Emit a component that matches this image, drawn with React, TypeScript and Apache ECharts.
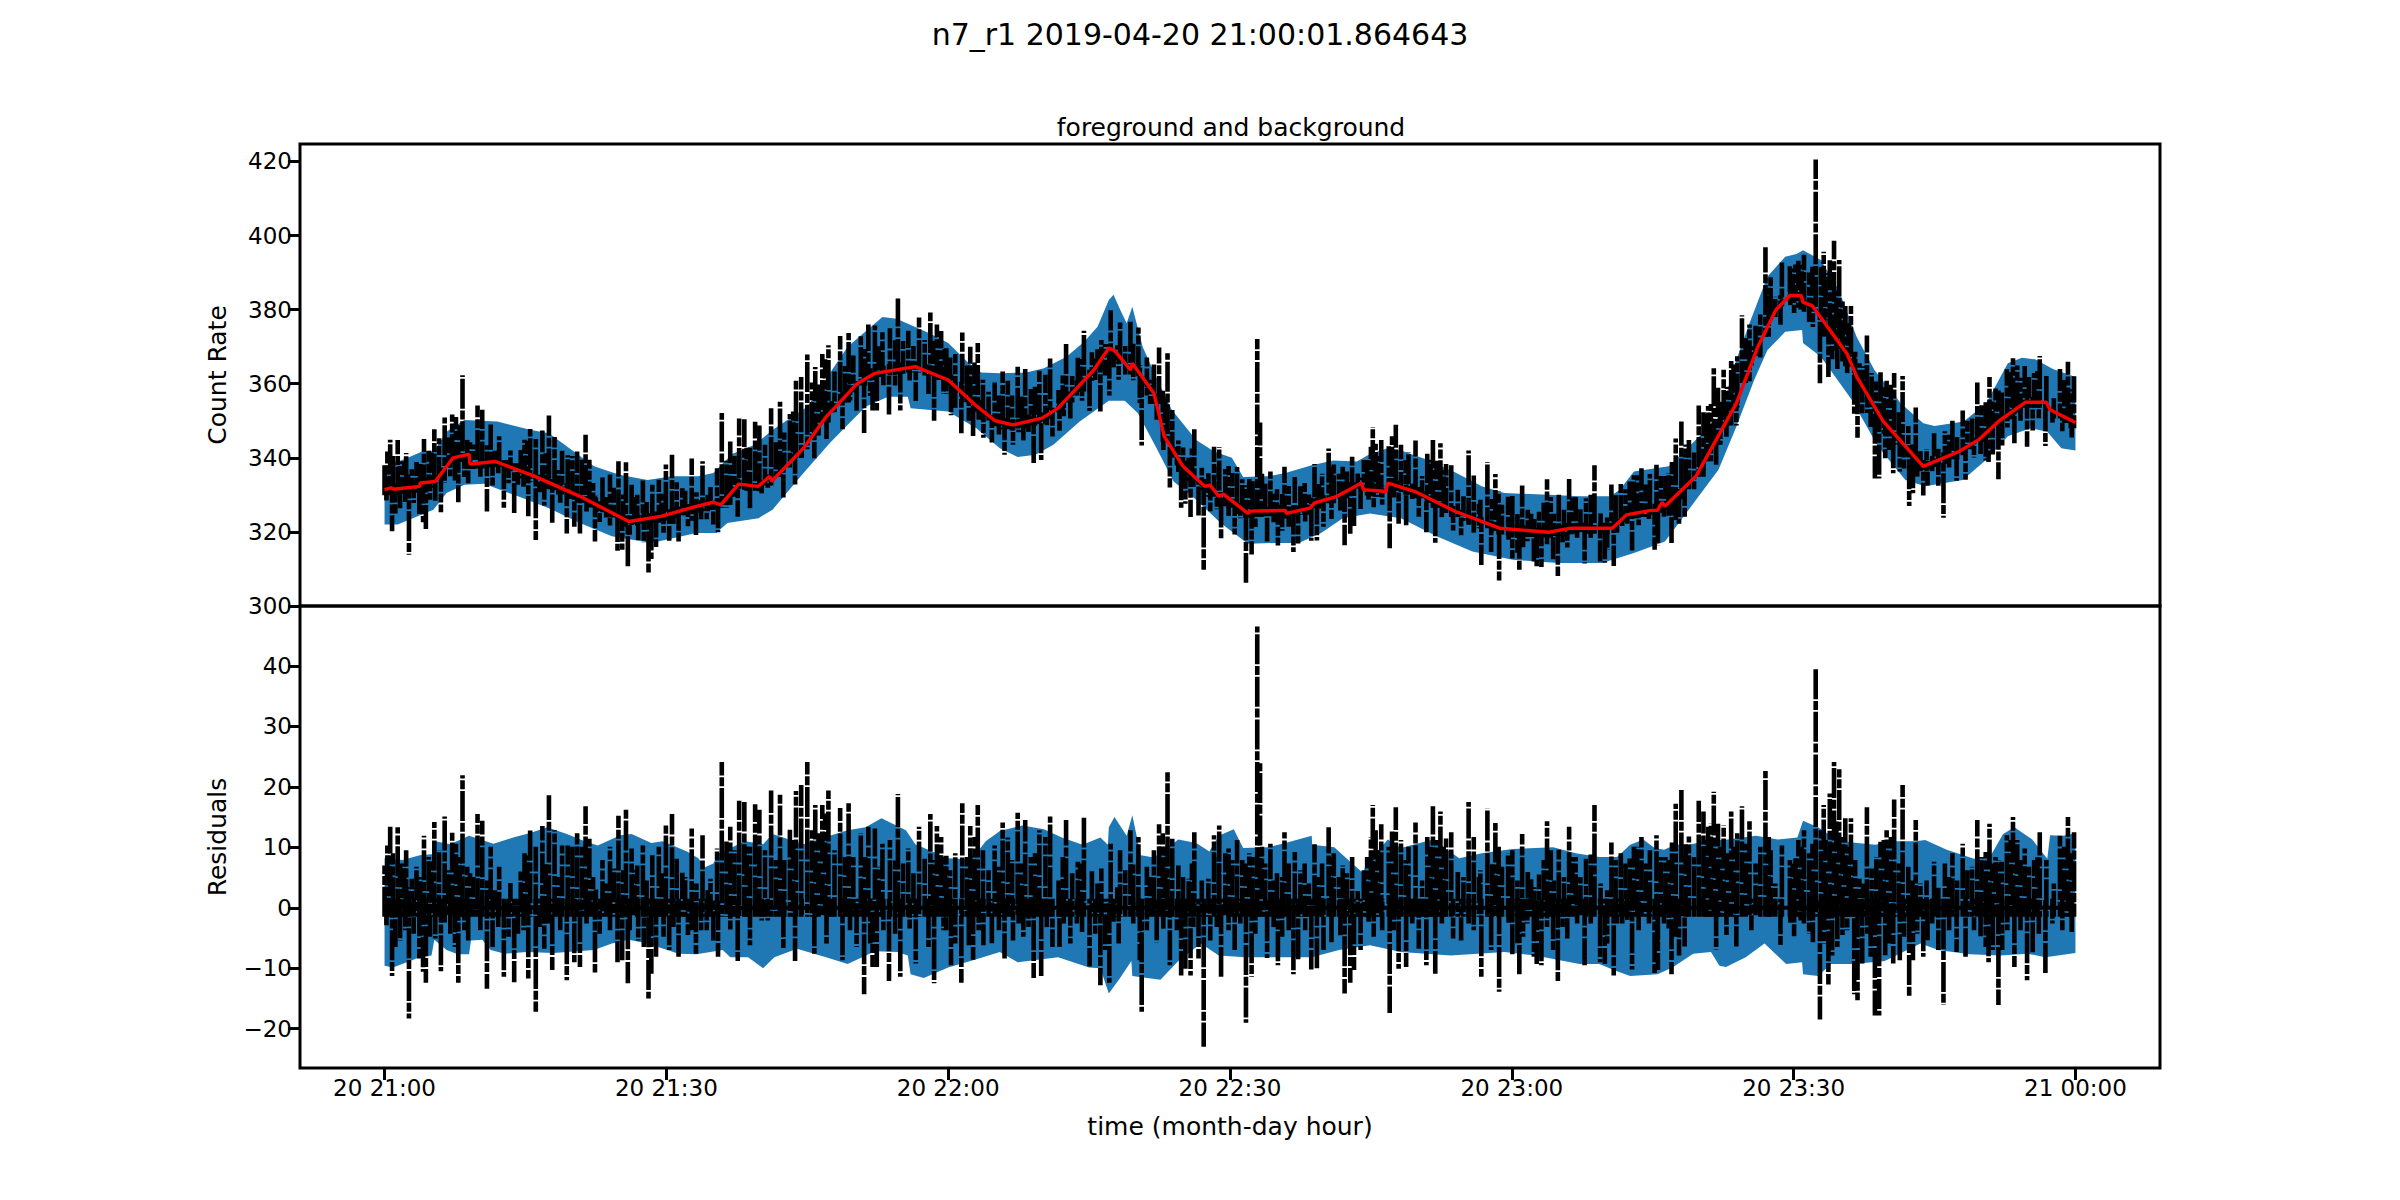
import React, { useEffect, useRef } from "react";
import * as echarts from "echarts";

const suptitle = "n7_r1 2019-04-20 21:00:01.864643";
const panelTitle = "foreground and background";
const xTickMinutes = [0, 30, 60, 90, 120, 150, 180];
const xTickLabels = ["20 21:00", "20 21:30", "20 22:00", "20 22:30", "20 23:00", "20 23:30", "21 00:00"];
const countTicks = [300, 320, 340, 360, 380, 400, 420];
const residualTicks = [-20, -10, 0, 10, 20, 30, 40];

// Red fitted background [minute, count rate]
const redLine = [[0,331.4],[0.7,331.9],[1,331.5],[3.75,332.3],[3.8,333.2],[5.4,333.6],[7.3,340],[9,341],[9.1,338.3],[11.8,339],[16,335],[20.8,329.6],[26,322.8],[29.4,324.2],[33.2,326.9],[35,328],[35.8,327.3],[37.7,332.9],[39.8,332.3],[41,335],[41.2,333.6],[44.6,342.6],[47,351],[50.3,360],[52.2,362.8],[56.5,364.6],[60,361],[63,354],[65,350],[66.9,348.9],[70,350.7],[71.7,353.4],[75.5,363.7],[77.1,369.6],[77.7,369],[79.4,363.7],[79.6,365.5],[81.9,357.4],[83,345.8],[85,337.7],[87.3,332.3],[87.9,332.6],[88.8,329.6],[89.3,330.2],[91.5,325.8],[91.9,325],[92.2,325.6],[95.9,325.8],[96,325],[98.5,326.4],[99,327.8],[101.4,329.6],[104,333.2],[104.2,331.4],[106.6,330.9],[106.8,333.2],[109.7,330.9],[114,325.5],[118.7,321],[123.9,319.9],[126.3,321],[130.7,321],[132.2,324.6],[134.8,325.8],[135.5,325.8],[136,328],[136.3,326.9],[139.6,335],[143.9,354.7],[146.2,370],[148.1,379.9],[149.6,383.8],[150.8,383.8],[151,382],[152,381],[155.7,368],[156.7,362],[159.5,350],[163.8,337.7],[167.6,341.7],[169.7,344.9],[171.9,350],[174.7,355],[176.9,355],[177.3,353],[180,349.5]];

// Background level read at each whole minute, 0 to 180
const backgroundByMinute = [331.4,331.5,331.8,332.1,333.2,333.5,335.8,339.3,340.4,338.5,338.6,338.9,339,337.9,337,335.9,335,333.9,332.8,331.6,330.4,329.4,328.1,326.8,325.4,323.9,322.9,323.2,323.6,324,324.6,325.3,326,326.7,327.1,327.4,328,331,332.9,332.6,332.5,334,336.3,338.9,341.5,343.8,347.5,351,353.8,356.4,359.2,361,362.6,363.3,363.8,364.2,364.5,364.5,363.7,362.5,361,359,356.5,354,351.6,350,349.2,348.9,349.5,350.2,350.7,352,353.8,356.4,359.4,362.3,365.3,369.2,367,364,363.5,360.5,356,345.8,341.5,337.7,335.2,332.8,331,329.3,328,326.3,325.3,325.6,325.7,325.8,325.1,325.6,326.1,327.8,328.4,329.2,330.6,331.9,333.2,331.3,331,333,332.3,331.5,330.6,329.4,328,326.6,325.5,324.5,323.5,322.5,321.6,320.8,320.5,320.3,320.1,320,319.9,320.4,320.9,321,321,321,321,322,324.2,325.2,325.5,326.1,326.7,328,330.1,333,336.4,340.6,345,350.2,355.1,361.7,368.6,374.2,379.5,382.4,383.8,382,381,378.6,374.5,370.5,366.2,360.7,356.4,352.2,348,345,341.8,339.1,337.9,339,339.9,341.1,342.2,343.8,345.8,347.9,350.3,351.9,353.7,355,355,354.2,352.1,350.9,349.5];

// Blue band, top panel
const countBandUpper = [[0,337.7],[2.1,339.6],[4,341.7],[5.3,342],[6.6,347],[8.5,350.2],[12,349.8],[15.6,347.5],[17.5,346.6],[20,342],[22.3,337.7],[25,335.4],[28,334],[30.6,335],[33.4,335],[35,335.9],[37,341],[39.4,343.5],[41.3,347.5],[45,353.8],[49.3,370],[53,378],[54.5,377.5],[58,373.6],[60,371],[62,366],[63.5,363],[65.5,362.8],[68.3,363],[70.2,364.2],[72.6,367.3],[74.5,371.4],[75.9,375.4],[77.1,382.6],[77.6,384],[78.3,380],[79,376.3],[79.6,380.8],[80.7,370],[82.1,362],[83.8,353],[86.4,344.8],[88.3,341.7],[90.2,340],[91.4,334.8],[94,335],[95.9,335.9],[98.7,338],[101,339.3],[103.5,339],[104.9,341],[106.8,342.6],[108.2,342],[111,339.5],[114,336],[116.8,332.3],[119.2,330.5],[123.9,330],[127.2,329.6],[130.5,329.6],[131.5,331.4],[133,336.3],[136.7,337.7],[139.6,344.9],[142.4,352],[143.4,362.8],[145.3,376.3],[147.2,388.9],[149.1,394.3],[150.3,395],[151,396],[152.9,393.4],[154.8,385.3],[156.7,372.7],[158.6,363.7],[161.4,354.7],[163.8,349.3],[165,348.6],[168.1,349.8],[170.5,354.7],[172.8,365.5],[174.3,367],[175.7,366.6],[177.6,364],[180,361.8]];
const countBandLower = [[0,322],[1.4,322],[5.2,326],[6.6,330.5],[8.5,332.7],[10.6,333],[14.2,329.6],[17.5,326.4],[20.8,322.4],[24.2,318.8],[28.4,317],[33.2,319.7],[35.3,319.7],[36.5,322.4],[39.8,323.7],[41.3,326],[44.6,335.9],[47.4,344],[51.2,353.8],[53.6,356.5],[55.7,356.5],[56,353.4],[60,352.5],[63,348],[65.5,342.6],[67.4,340.2],[69.3,340.8],[71.2,343.5],[74,349.8],[77.1,355.4],[78.8,355.4],[80.2,352],[82.1,343],[84,333.6],[86.4,328.7],[89,322.4],[91.9,316.8],[94.9,317],[97.3,317],[99.7,319.7],[102,323.7],[104.9,325],[108.2,323.7],[112,318.8],[115.8,314.7],[120.1,312.5],[124.9,311.6],[129.6,311.6],[133,314.3],[136.3,317.4],[139.1,326.9],[142,336.8],[143.9,348.4],[145.8,361],[147.2,369],[149.1,374],[150.9,374.5],[151,371],[152.9,367.3],[156.2,355.6],[159,343],[161.9,334],[164,332.3],[168,334],[170.5,339.5],[172.8,345.8],[175.2,348],[177,347],[178.5,342.6],[180,342]];

// Blue band, residual panel
const residualBandUpper = [[0,8.2],[1.9,7.9],[3.75,8.7],[5.3,8.9],[5.4,11],[7,10.5],[9,11.9],[11.6,10.6],[13.7,11.6],[15.6,12.4],[17.3,13.3],[19.4,12.2],[21.3,11],[22.7,10.3],[25.1,12],[26.3,12.2],[28.4,10.7],[29.6,11],[32.2,9.3],[33.4,8.2],[34.1,6.7],[35,7.3],[35.6,9],[38.4,11],[40.3,10.5],[41.3,12.2],[44.6,10.5],[47.4,11.9],[49.3,12.8],[51.2,13.3],[52.9,14.8],[55.5,12.8],[56.5,10.5],[60,8.2],[62,8],[63,9],[64,11],[65.5,12.7],[67.9,13.6],[70.2,13],[72.1,11.6],[74.3,10.4],[76.2,11.6],[77,10.4],[77.1,13.3],[77.7,15],[79,11.9],[79.6,15.3],[80.5,8.7],[81.9,8.3],[84.5,11.3],[86.4,10.7],[87.8,9.3],[88.8,11.9],[90.4,13],[91.4,9.9],[94,10],[95.9,10.7],[98.7,11.9],[98.75,10.4],[101.1,10],[103,7.3],[104.2,5.7],[104.4,7],[106.8,11.3],[108.2,9.9],[111.6,11.3],[114.4,8.2],[116.8,9],[120.1,9.7],[124.4,10],[126.8,9],[129.3,8.4],[131.2,8.4],[132.6,10.4],[134,11.3],[135.2,9.9],[136.2,9.6],[137.4,10.4],[138.8,10.4],[140.7,11],[143,11.3],[146,11.9],[148.3,11.3],[150.4,11.6],[151,14.4],[152.6,13.3],[154.9,11],[158.7,10.4],[160.6,11],[163,11],[164,11.2],[166.3,9.6],[169.2,8.1],[171,8.7],[172.3,12.2],[173.5,13.3],[175.4,11.3],[177,8.1],[177.3,12],[178.7,11.9],[180,12.3]];
const residualBandLower = [[0,-9.6],[0.9,-9.9],[3.75,-8.2],[5,-7.9],[5.3,-5.3],[6.6,-7],[7.8,-7.7],[9,-7.7],[9.2,-5.4],[10.4,-5.3],[11.3,-7],[12.8,-7.6],[15.1,-7.3],[18,-7.5],[22.3,-7],[24.2,-5.9],[26,-5.3],[28,-5.9],[31.3,-7.6],[33.2,-7.7],[36,-7],[36.8,-8.2],[38.7,-8.2],[40.3,-10],[41.5,-8.2],[43.9,-6.8],[47,-8.2],[49.3,-9.3],[52.2,-7.2],[54.6,-7.3],[55.7,-7.9],[56,-11],[57.4,-11.6],[60,-9.9],[63,-8.5],[65.5,-7.3],[67.4,-9],[71.7,-8.2],[75,-9.9],[76.2,-10],[77.1,-14.2],[78.3,-11.6],[79.5,-8.8],[79.6,-11.3],[82.6,-11.9],[84.5,-8.8],[86.9,-5.9],[88.8,-7.9],[91.6,-8.2],[94.9,-8.2],[98.7,-8.2],[101.6,-7],[104.9,-6.2],[108.2,-7.3],[113.5,-7.9],[119.2,-7.3],[122.5,-7.9],[127.2,-9.3],[129.3,-9.3],[131.2,-10.5],[132.6,-11.3],[135.5,-11],[137.1,-9.9],[139.3,-7.6],[141.2,-7.3],[142.1,-9.6],[142.8,-9.8],[144.9,-8.2],[146.9,-5.9],[149.2,-9.3],[150.9,-9],[151,-11],[152.6,-11.3],[154,-9.3],[156.4,-9.3],[159.7,-8.8],[163.5,-5.9],[165.4,-7],[168.7,-7.7],[172,-7.9],[174.9,-7.6],[176.8,-8.2],[180,-7.5]];

// Black bars above the background [minute, residual at the bar's top]
const upperSpikes = [
[0,7],[0.3,10.3],[0.6,13.4],[0.9,9],[1.4,13.3],[1.65,7.3],[2.1,7.3],[2.3,9.5],[2.5,3.4],[2.9,4.8],[3.4,6.8],[3.8,5.1],[4.2,11.9],[4.7,8.4],[5,7.9],[5.3,14.2],[5.8,9.5],[6.4,15.1],[6.8,6.2],[7.2,12.4],[7.6,10.6],[8,8.4],[8.3,21.9],[8.8,6.8],[9.1,5.7],[9.45,5.1],[9.9,15.5],[10.4,14.4],[10.9,4.5],[11.3,10.1],[11.75,2.9],[12.2,6.8],[12.9,1.2],[13.4,4.1],[14.5,6.2],[14.9,9],[15.2,8.7],[15.5,12.8],[16.1,10.1],[16.8,13.5],[17.15,7.3],[17.5,18.6],[18.1,12.8],[18.5,5.1],[18.9,10.3],[19.5,10.3],[20,10.1],[20.5,12.3],[21,10.1],[21.4,16.8],[21.8,11.4],[22.2,5.1],[22.5,3],[23.2,7.9],[23.6,4],[24,10.1],[24.4,6.5],[24.9,15.2],[25.4,6.2],[25.7,16.4],[26.3,9.8],[26.6,6.2],[26.9,7],[27.5,10.3],[27.9,4.5],[28.5,8.7],[29.2,10.1],[29.5,5.7],
[29.95,13.6],[30.6,15.5],[31.1,8.1],[31.7,5.8],[32,5.1],[32.7,13.1],[33.2,4],[33.85,12],[34.4,2.9],[34.7,4.8],[35.4,9.8],[35.9,24.1],[36.4,11.2],[36.8,13.4],[37.25,9.5],[37.75,17.7],[38.3,17.5],[38.55,10.1],[38.9,10.1],[39.45,17.1],[39.9,16.2],[40.5,9.5],[41.15,19.4],[41.65,7.9],[42.1,18.8],[42.55,7.9],[43.15,12.9],[43.5,11.2],[43.8,19.3],[44.35,20.3],[45,24.1],[45.5,12.8],[45.85,17],[46.2,12.3],[46.6,17],[46.9,15.6],[47.25,19.4],[47.9,9.5],[48.5,16.5],[49,8.4],[49.4,17.3],[49.9,8.4],[50.7,12.3],[51.15,8.4],[51.5,13.4],[52.2,13.1],[52.6,6.8],[53,10.6],[53.8,11.2],[54.35,7.9],[54.65,18.8],[55.2,7.3],[55.75,9.8],[56.3,5.7],[56.9,13.4],[57.5,8.1],[58.1,15.5],[58.4,7.9],[58.8,13.5],[59.25,11.7],[59.65,8.4],
[59.8,8.6],[60.2,6.2],[60.75,9],[61.5,17.3],[62,8.4],[62.35,13.5],[62.8,11.7],[63.15,17],[63.7,9.5],[64.3,6.2],[64.95,10.3],[65.4,6.8],[65.8,14.1],[66.35,11.6],[66.8,7.9],[67.4,15.7],[67.85,7.3],[68.2,14.5],[68.8,8.4],[69.25,9],[69.7,12.8],[70.35,11.7],[70.85,15.1],[71.75,4.5],[72.2,8.4],[72.55,14.5],[73.2,5.7],[73.8,7.6],[74.05,7.3],[74.45,14.9],[75.3,6.2],[75.9,4],[76.3,6.5],[77.3,10.6],[78,3.4],[78.3,9.5],[78.85,6.2],[79.4,12.8],[79.7,7.3],[80.25,11.7],[81.15,6.8],[81.5,5.1],[81.9,9.5],[82.45,13.8],[82.85,12.3],[83.1,10.1],[83.35,22.4],[83.85,11.4],[84.5,7],[85,5.1],[85.6,4.8],[85.95,7.3],[86.2,12.5],[87,4.5],[87.7,4.8],[88.3,12],[88.8,8.4],[88.85,13.6],[89.5,9],
[89.85,9.8],[90.25,7.9],[90.75,11.2],[91.3,7.9],[91.65,7.3],[92.05,9],[92.4,8.4],[92.9,46.5],[93.2,23.9],[93.4,10.1],[93.75,7.3],[94.3,10.6],[94.65,4.5],[95,5.7],[95.55,5.1],[95.8,12.5],[96.25,7.3],[96.9,9.2],[97.5,6.2],[97.95,7.3],[98.4,4],[99,10.5],[99.45,5.1],[99.8,7.3],[100.5,13.3],[100.8,8.4],[101.05,9],[101.6,5.1],[102,7],[102.45,5.7],[103,8.4],[103.6,2.9],[104.25,6.2],[104.6,8.4],[105,11.7],[105.2,17],[105.5,12.8],[105.75,9.5],[106.1,13.8],[106.9,10.1],[107.25,12.8],[107.65,16.6],[108.2,11.2],[108.7,7.9],[109,10.1],[109.75,14.1],[110.45,4.5],[111,11.7],[111.35,10.1],[111.6,16.8],[112,11.2],[112.4,15.9],[112.75,10.1],[113,11.7],[113.55,12.5],[114.25,5.9],[114.85,5.1],[115.4,17.5],[115.95,11.7],[116.5,5.1],[116.65,6.2],[117.4,16.4],[117.9,7.3],[118.25,14],[118.6,10.1],[118.95,6.8],[119.6,9],
[120.05,9.5],[120.6,4.5],[121.1,12.2],[121.7,5.9],[122.05,4.8],[122.4,3.4],[122.9,5.5],[123.4,7.9],[123.75,14.3],[124.15,9.5],[124.5,4.5],[125,9.6],[125.55,5.1],[126.1,13.4],[126.45,8.4],[126.8,8.4],[127.3,5.1],[127.9,8.1],[128.4,9],[128.8,17],[129.45,4],[130.15,2.9],[130.6,10.8],[131.05,7.9],[131.6,9],[132.1,7.3],[132.55,8.4],[133,10.1],[133.35,10.1],[133.8,11.7],[134.25,7.3],[134.7,9.5],[135.4,12],[135.85,8.4],[136.35,8.4],[136.7,7.9],[137.05,10.9],[137.45,17.2],[138.05,19.7],[138.5,10.6],[138.85,11.8],[139.4,8.4],[139.9,17.7],[140.4,15.9],[140.7,11.2],[140.9,13.4],[141.2,13.9],[141.5,19.2],[141.95,13.9],[142.2,10.1],[142.55,13.6],[142.9,9],[143.35,15.9],[143.6,10.1],[144,12.3],[144.5,16.8],[144.9,10.6],[145.3,14.3],[145.95,7.3],[146.45,10.1],[147,22.6],[147.35,11.7],[147.55,9.5],[148.05,4],[148.75,10.3],[149.6,7.9],
[149.9,7.3],[150.2,8.4],[150.5,11.2],[150.85,10.1],[151.1,12.8],[151.65,9],[152,10.6],[152.35,39.5],[152.9,12.8],[153.2,17],[153.4,11.2],[153.85,18.9],[154.3,24.1],[154.55,14.5],[154.85,22.9],[155.2,11.7],[155.5,14.8],[155.85,10.1],[156.1,14.8],[156.55,7.9],[157,4.8],[157.4,4],[157.8,16.6],[158.3,6.5],[158.8,8.4],[159.25,10.9],[159.6,11.2],[159.9,12.8],[160.35,11.7],[160.7,17.9],[161.2,7.3],[161.6,20.3],[162.2,6.8],[162.65,4.5],[163,14.5],[163.5,4],[164.15,4.5],[164.95,7.6],[165.4,3.4],[166.1,7.3],[166.55,5.1],[166.9,9],[167.4,4.5],[168,10.6],[168.5,6.2],[169,6.8],[169.55,14.5],[170,8.4],[170.45,9.2],[170.85,13.9],[171.15,7.3],[171.5,8.4],[171.8,7.9],[172.15,7.6],[172.7,12],[173.1,11.2],[173.35,15],[173.8,11.2],[174.15,7.9],[174.6,9.8],[175.05,6.8],[175.6,7.9],[175.95,8.4],[176.2,12.5],[176.9,7.9],[177.7,4],[178.35,11.9],[178.8,10.1],[179.2,15],[179.5,9],[179.85,12.5]
];

// Black bars below the background [minute, residual at the bar's bottom]
const lowerSpikes = [
[0.2,-2.9],[0.8,-11.3],[1.15,-6.5],[1.65,-5.4],[2.2,-3.7],[2.6,-18.3],[3.1,-4.3],[3.7,-8.4],[4.1,-10.6],[4.4,-12.4],[4.85,-4.8],[5.4,-5.1],[6,-10.5],[6.4,-2.6],[7,-4.3],[7.5,-6.5],[7.85,-12.4],[8.5,-3.7],[8.9,-5.4],[10.2,-3.7],[10.9,-13.4],[11.5,-6.5],[12.1,-3.2],[12.7,-11.4],[13.2,-4.8],[13.8,-12.3],[14.2,-4.3],[14.8,-3.7],[15.3,-11.7],[16.1,-17.2],[16.5,-3.2],[17,-6.8],[17.4,-2.6],[17.85,-10.3],[18.7,-3.7],[19.4,-12],[20.2,-9],[20.8,-9.8],[21.5,-2.6],[22.4,-10.7],[22.9,-4.3],[24,-3.7],[24.8,-9],[25.3,-8.7],[25.9,-12.5],[26.1,-3.7],[27,-5.4],[27.6,-6.5],[28.1,-15],[28.4,-10.9],[28.9,-8.1],[29.7,-4.8],
[30.3,-7],[30.75,-3.2],[31.3,-8.1],[32.3,-4.5],[32.7,-3.7],[33.15,-7.6],[33.7,-3.7],[34.3,-3.7],[35,-5.4],[35.5,-8.1],[36.8,-3.7],[37.6,-8.8],[38.4,-1.5],[38.9,-6.2],[40.15,-2.1],[40.8,-2.1],[42.45,-7],[43.7,-8.8],[44.4,-1.5],[45.75,-7.6],[47.05,-5.9],[47.6,-1.5],[48.75,-8.7],[49.55,-3.7],[50.25,-6.5],[51.05,-14.3],[51.7,-5.9],[51.95,-9.8],[52.4,-9.8],[53.1,-3.7],[53.7,-12.1],[54.35,-4.3],[54.9,-11.4],[55.9,-3.7],[56.55,-9.2],[57.9,-6.5],[58.5,-12.5],[59.5,-3.7],
[59.8,-3.7],[60.3,-9.5],[60.75,-5.9],[61.4,-12.4],[62.2,-6.5],[62.65,-8.6],[63.25,-3.7],[63.75,-6.2],[64.65,-5.9],[65.4,-3.7],[66,-8.4],[66.9,-5.4],[67.5,-2.6],[68,-4.8],[68.55,-3.2],[69.1,-11.6],[69.9,-11.3],[70.5,-3.2],[71.1,-6.5],[71.85,-6.5],[72.3,-2.6],[73,-5.9],[73.7,-2.6],[74.25,-4],[75.05,-9.7],[75.65,-4.3],[76.2,-12.8],[76.7,-7],[77.15,-12.4],[77.6,-2.6],[78.15,-5.9],[79.7,-2.6],[80.4,-8.7],[80.6,-17.2],[81.15,-3.7],[82.2,-5.7],[82.9,-3.7],[83.6,-9.5],[84.35,-3.7],[84.8,-11.2],[85.25,-10.1],[85.8,-11.2],[86.1,-3.2],[86.65,-8.4],[87.2,-23],[87.9,-5.4],[88.6,-3.2],[89.05,-11.4],
[89.85,-3.7],[90.5,-7],[91.1,-2.6],[91.7,-19],[92.3,-11.4],[92.7,-4.3],[93.95,-8.3],[94.65,-3.2],[95.1,-9.5],[95.55,-4.8],[96.25,-3.7],[96.75,-11],[97.25,-8.7],[98,-3.7],[98.65,-10.2],[99.25,-10.1],[99.95,-7],[100.8,-5.7],[101.75,-4.8],[102.2,-14.2],[102.8,-12.4],[103.2,-10.3],[103.9,-7],[104.75,-2.6],[105.3,-4.8],[106.2,-3.7],[107,-17.4],[107.45,-3.7],[107.95,-10.1],[108.75,-9.8],[109.4,-2.6],[110.1,-6.8],[110.9,-9.5],[111.85,-10.9],[112.55,-2.6],[113.75,-5.1],[114.6,-5.4],[115.4,-2.6],[115.95,-3.7],[116.75,-11.4],[117.8,-7],[118.65,-13.9],[119.65,-2.6],
[120.05,-7.7],[120.6,-5.9],[120.8,-11],[121.2,-4.8],[121.65,-2.6],[122.35,-8.1],[122.65,-9.3],[123.15,-9.5],[123.75,-3.2],[124.4,-7.3],[124.9,-12.3],[125.4,-3.2],[125.9,-5.1],[126.95,-2.6],[127.75,-9.5],[128.4,-2.6],[129.4,-9],[129.9,-9.3],[130.15,-5.9],[130.85,-11.2],[131.2,-2.6],[131.75,-2.6],[132.3,-2],[132.8,-10.2],[133.5,-3.7],[134.6,-2.6],[135.2,-10.9],[135.5,-6.5],[135.55,-10.3],[136.2,-2.6],[136.7,-3.7],[137,-11],[137.45,-4.8],[137.8,-7.9],[138.4,-6.4],[140.1,-0.4],[141.75,-6.9],[142.85,-4.5],[143.9,-6.4],[145.5,-3.7],[148.6,-6.5],[149.65,-2.6],
[150.05,-4.7],[150.75,-2.1],[151.1,-2.6],[151.65,-4.3],[152.05,-5.7],[152.8,-18.5],[153.25,-5.9],[153.7,-12.7],[154.1,-7.9],[154.65,-6.5],[155.2,-4.5],[155.7,-3.7],[156.45,-14.3],[156.8,-15.3],[157.3,-9.2],[157.85,-4.3],[158.2,-8.1],[158.65,-17.8],[159.1,-17.8],[159.75,-8.1],[160.15,-5.9],[160.6,-9.2],[161.3,-8.7],[161.75,-4.8],[162.3,-14.8],[162.7,-8.7],[163.15,-4.3],[163.8,-8.1],[164.25,-5.4],[164.75,-2.6],[165.4,-7],[165.95,-16.1],[166.55,-3.7],[167.35,-7.3],[168.3,-8.1],[169.2,-3.7],[169.9,-4.8],[170.45,-6.5],[170.75,-9],[171.2,-7],[171.8,-16.1],[172.2,-7],[172.75,-3.7],[173.5,-9.8],[174.15,-3.7],[174.85,-12],[175.45,-7.6],[176.1,-4.3],[176.8,-11],[177.55,-2.6],[178.6,-3.7],[179.6,-4]
];

// How far past the background each kind of bar starts
const upperBarStart = -1.5;
const lowerBarStart = 1.5;

const FONT = "DejaVu Sans";

function bandSeries(upper: number[][], lower: number[][], axisIndex: number) {
  return {
    type: "custom",
    xAxisIndex: axisIndex,
    yAxisIndex: axisIndex,
    silent: true,
    z: 1,
    data: [upper[0]],
    renderItem: (_p: any, api: any) => ({
      type: "polygon",
      shape: { points: upper.concat([...lower].reverse()).map((d) => api.coord(d)) },
      style: { fill: "#1f77b4", stroke: "none" },
    }),
  };
}

function barSeries(spikes: number[][], start: number, base: (m: number) => number, axisIndex: number) {
  return {
    type: "custom",
    xAxisIndex: axisIndex,
    yAxisIndex: axisIndex,
    silent: true,
    z: 2,
    data: spikes.map(([m, r]) => [m, base(m) + start, base(m) + r]),
    renderItem: (p: any, api: any) => {
      const a = api.coord([api.value(0), api.value(1)]);
      const b = api.coord([api.value(0), api.value(2)]);
      return {
        type: "line",
        shape: { x1: a[0], y1: a[1], x2: b[0], y2: b[1] },
        style: {
          stroke: "#000",
          lineWidth: 4.6,
          lineDash: [30, 1.8, 9, 1.8],
          lineDashOffset: (p.dataIndex * 11) % 42,
        },
      };
    },
  };
}

const byMinute = (m: number) => backgroundByMinute[Math.round(m)];

function App() {
  const ref = useRef<HTMLDivElement>(null);
  useEffect(() => {
    const chart = echarts.init(ref.current!, undefined, { renderer: "svg" });
    const xAxisBase = { type: "value", min: -9, max: 189, splitLine: { show: false }, axisLine: { show: false, onZero: false } };
    const yAxisBase = (ticks: number[]) => ({
      type: "value",
      splitLine: { show: false },
      axisLine: { show: false, onZero: false },
      nameLocation: "middle",
      nameRotate: 90,
      nameTextStyle: { fontFamily: FONT, fontSize: 25, color: "#000" },
      axisTick: { show: true, customValues: ticks, length: 12, lineStyle: { color: "#000", width: 3 } },
      axisLabel: {
        show: true,
        customValues: ticks,
        margin: 8,
        fontFamily: FONT,
        fontSize: 23,
        color: "#000",
        formatter: (v: number) => String(v).replace("-", "\u2212"),
      },
    });
    chart.setOption({
      animation: false,
      backgroundColor: "#fff",
      title: [
        { text: suptitle, left: 1195, top: 14, textAlign: "center", textStyle: { fontFamily: FONT, fontSize: 30, fontWeight: "normal", color: "#000" } },
        { text: panelTitle, left: 1226, top: 110, textAlign: "center", textStyle: { fontFamily: FONT, fontSize: 25, fontWeight: "normal", color: "#000" } },
      ],
      grid: [
        { left: 300, top: 144, width: 1860, height: 462, show: true, borderColor: "#000", borderWidth: 3, backgroundColor: "transparent", z: 5 },
        { left: 300, top: 606, width: 1860, height: 462, show: true, borderColor: "#000", borderWidth: 3, backgroundColor: "transparent", z: 5 },
      ],
      xAxis: [
        { ...xAxisBase, gridIndex: 0, axisTick: { show: false }, axisLabel: { show: false } },
        {
          ...xAxisBase,
          gridIndex: 1,
          name: "time (month-day hour)",
          nameLocation: "middle",
          nameGap: 46,
          nameTextStyle: { fontFamily: FONT, fontSize: 25, color: "#000" },
          axisTick: { show: true, customValues: xTickMinutes, length: 12, lineStyle: { color: "#000", width: 3 } },
          axisLabel: {
            show: true,
            customValues: xTickMinutes,
            margin: 8,
            fontFamily: FONT,
            fontSize: 23,
            color: "#000",
            formatter: (v: number) => xTickLabels[xTickMinutes.indexOf(v)],
          },
        },
      ],
      yAxis: [
        { ...yAxisBase(countTicks), gridIndex: 0, min: 300, max: 424.7, name: "Count Rate", nameGap: 70 },
        { ...yAxisBase(residualTicks), gridIndex: 1, min: -26.5, max: 49.9, name: "Residuals", nameGap: 70 },
      ],
      series: [
        bandSeries(countBandUpper, countBandLower, 0),
        barSeries(upperSpikes, upperBarStart, byMinute, 0),
        barSeries(lowerSpikes, lowerBarStart, byMinute, 0),
        { type: "line", xAxisIndex: 0, yAxisIndex: 0, data: redLine, showSymbol: false, silent: true, z: 3, lineStyle: { color: "#ff0000", width: 3.4 } },
        bandSeries(residualBandUpper, residualBandLower, 1),
        barSeries(upperSpikes, upperBarStart, () => 0, 1),
        barSeries(lowerSpikes, lowerBarStart, () => 0, 1),
        { type: "line", xAxisIndex: 1, yAxisIndex: 1, data: [[0, 0], [180, 0]], showSymbol: false, silent: true, z: 3, lineStyle: { color: "#000", width: 4 } },
      ],
    });
    return () => chart.dispose();
  }, []);
  return <div ref={ref} style={{ position: "fixed", left: 0, top: 0, width: 2400, height: 1200 }} />;
}

export default App;
